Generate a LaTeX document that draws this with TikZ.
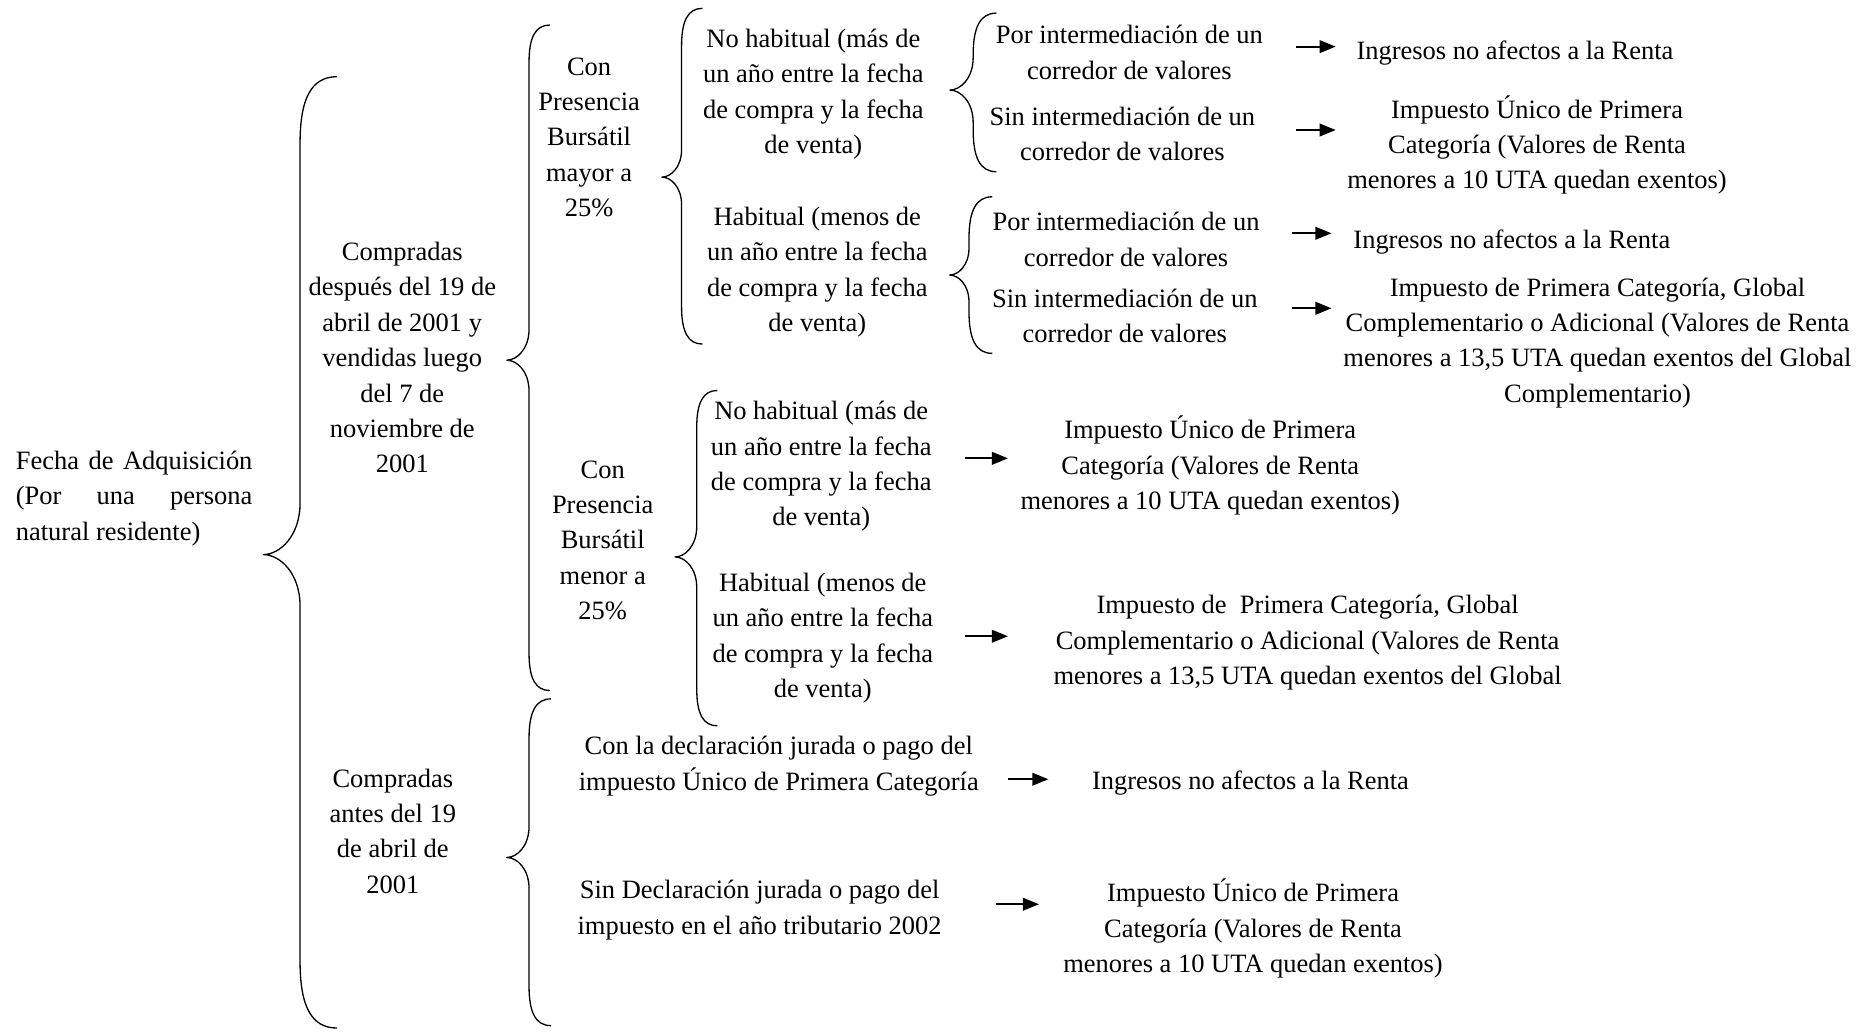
\documentclass[tikz,border=0pt]{standalone}
\usepackage{fontspec}
\setmainfont{Liberation Serif}
\usetikzlibrary{arrows.meta}
\newcommand\mybrace[6]{%
 \draw[brc] (#2,#4)
  .. controls ({#1+0.3*(#2-#1)},#4) and (#1,{#4+0.6*(#2-#1)}) .. (#1,{#4+1.8*(#2-#1)})
  -- (#1,{#5-1.4*(#1-#3)})
  .. controls (#1,{#5-0.5*(#1-#3)}) and ({#3+0.45*(#1-#3)},#5) .. (#3,#5)
  .. controls ({#3+0.45*(#1-#3)},#5) and (#1,{#5+0.5*(#1-#3)}) .. (#1,{#5+1.4*(#1-#3)})
  -- (#1,{#6-1.8*(#2-#1)})
  .. controls (#1,{#6-0.6*(#2-#1)}) and ({#1+0.3*(#2-#1)},#6) .. (#2,#6);}
\begin{document}
\begin{tikzpicture}[x=1pt,y=-1pt,
  txt/.style={align=center, inner sep=0pt, font=\fontsize{22.2}{29.7}\selectfont},
  arr/.style={line width=1.8pt, -{Triangle[length=13.5pt,width=10.5pt]}},
  brc/.style={line width=1.1pt, line join=round}]
\useasboundingbox (0,0) rectangle (1568,865);

% texts
\node[txt, align=left, anchor=west] (fecha) at (13.1,418) {\makebox[198.4pt][s]{Fecha de Adquisición}\\\makebox[198.4pt][s]{(Por una persona}\\natural residente)};
\node[txt] (c1) at (337.3,299.9) {Compradas\\después del 19 de\\abril de 2001 y\\vendidas luego\\del 7 de\\noviembre de\\2001};
\node[txt] (c2) at (329.4,696.9) {Compradas\\antes del 19\\de abril de\\2001};
\node[txt] (p1) at (494,115.2) {Con\\Presencia\\Bursátil\\mayor a\\25\%};
\node[txt] (p2) at (505.4,453.1) {Con\\Presencia\\Bursátil\\menor a\\25\%};
\node[txt] (h1) at (682,79) {No habitual (más de\\un año entre la fecha\\de compra y la fecha\\de venta)};
\node[txt] (h2) at (685.3,228.1) {Habitual (menos de\\un año entre la fecha\\de compra y la fecha\\de venta)};
\node[txt] (h3) at (688.6,391.1) {No habitual (más de\\un año entre la fecha\\de compra y la fecha\\de venta)};
\node[txt] (h4) at (689.9,534.9) {Habitual (menos de\\un año entre la fecha\\de compra y la fecha\\de venta)};
\node[txt] (i1) at (947,44) {Por intermediación de un\\corredor de valores};
\node[txt] (i2) at (941.1,112.5) {Sin intermediación de un\\corredor de valores};
\node[txt] (i3) at (944.2,200.6) {Por intermediación de un\\corredor de valores};
\node[txt] (i4) at (943.1,264.8) {Sin intermediación de un\\corredor de valores};
\node[txt] (r1) at (1270.3,44.7) {Ingresos no afectos a la Renta};
\node[txt] (r2) at (1288.8,121.6) {Impuesto Único de Primera\\Categoría (Valores de Renta\\menores a 10 UTA quedan exentos)};
\node[txt] (r3) at (1267.7,202.6) {Ingresos no afectos a la Renta};
\node[txt] (r4) at (1339.5,287.5) {Impuesto de Primera Categoría, Global\\Complementario o Adicional (Valores de Renta\\menores a 13,5 UTA quedan exentos del Global\\Complementario)};
\node[txt] (r5) at (1014.8,390.5) {Impuesto Único de Primera\\Categoría (Valores de Renta\\menores a 10 UTA quedan exentos)};
\node[txt] (r6) at (1096.4,539) {Impuesto de~~Primera Categoría, Global\\Complementario o Adicional (Valores de Renta\\menores a 13,5 UTA quedan exentos del Global};
\node[txt] (d1) at (653,642.3) {Con la declaración jurada o pago del\\impuesto Único de Primera Categoría};
\node[txt] (r7) at (1048.5,656.8) {Ingresos no afectos a la Renta};
\node[txt] (d2) at (636.9,763.2) {Sin Declaración jurada o pago del\\impuesto en el año tributario 2002};
\node[txt] (r8) at (1050.7,778.8) {Impuesto Único de Primera\\Categoría (Valores de Renta\\menores a 10 UTA quedan exentos)};

% braces
\mybrace{251.6}{282.6}{220.7}{64.3}{465}{862}
\mybrace{443.6}{461}{425}{21}{302}{579}
\mybrace{443.6}{462}{425}{586}{719}{860}
\mybrace{571.5}{589}{555}{7}{148.5}{288.5}
\mybrace{584.2}{601.5}{566}{327.4}{467}{608.6}
\mybrace{816}{835.5}{796.5}{11}{75.5}{144}
\mybrace{812.5}{832}{796.3}{165}{230.6}{296.3}

% arrows
\coordinate (a1s) at (1086.6,39.1); \coordinate (a1e) at (1120,39.1);
\coordinate (a2s) at (1086.6,109);  \coordinate (a2e) at (1120,109);
\coordinate (a3s) at (1083.4,195.6); \coordinate (a3e) at (1116.5,195.6);
\coordinate (a4s) at (1083.4,258.5); \coordinate (a4e) at (1116.5,258.5);
\coordinate (a5s) at (809.3,384.3); \coordinate (a5e) at (845.2,384.3);
\coordinate (a6s) at (809.3,533.5); \coordinate (a6e) at (845.2,533.5);
\coordinate (a7s) at (845.2,653.4); \coordinate (a7e) at (879.1,653.4);
\coordinate (a8s) at (835.4,758.2); \coordinate (a8e) at (871.2,758.2);
\foreach \k in {1,...,8} {\draw[arr] (a\k s) -- (a\k e);}
\end{tikzpicture}
\end{document}
